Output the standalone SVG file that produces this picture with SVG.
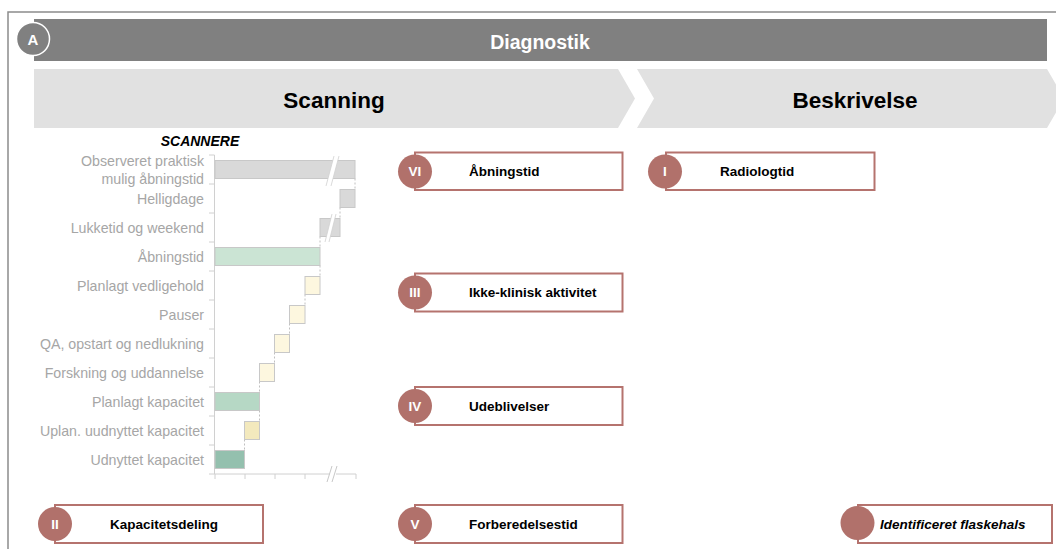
<svg xmlns="http://www.w3.org/2000/svg" width="1056" height="549" viewBox="0 0 1056 549">
  <style>
    .hdr { font-family: "Liberation Sans", Arial, sans-serif; font-weight: bold; }
    .cat { font-family: "Liberation Sans", Arial, sans-serif; font-size: 14.2px; fill: #a6a6a6; text-anchor: end; }
    .lbl { font-family: "Liberation Sans", Arial, sans-serif; font-size: 13.5px; font-weight: bold; fill: #000; }
    .num { font-family: "Liberation Sans", Arial, sans-serif; font-size: 13.5px; font-weight: bold; fill: #fff; text-anchor: middle; }
    .box { fill: #fff; stroke: #b5736e; stroke-width: 2; }
    .dot { fill: #b1716b; }
    .bar { stroke: #c8c8c8; stroke-width: 1; }
    .ax { stroke: #d0d0d0; stroke-width: 1; fill: none; }
    .dash { stroke: #b0b0b0; stroke-width: 0.8; stroke-dasharray: 2 2; fill: none; }
  </style>

  <rect x="0" y="0" width="1056" height="549" fill="#fff"/>
  <!-- frame -->
  <rect x="8" y="12" width="1070" height="560" fill="none" stroke="#8c8c8c" stroke-width="1.5"/>

  <!-- title bar -->
  <g id="title">
    <rect x="34" y="19" width="1013" height="42" fill="#808080"/>
    <text x="540" y="49" class="hdr" font-size="19.5" fill="#fff" text-anchor="middle">Diagnostik</text>
    <circle cx="33" cy="39" r="16.5" fill="#808080" stroke="#fff" stroke-width="1.5"/>
    <text x="33" y="44.5" class="hdr" font-size="15" fill="#fff" text-anchor="middle">A</text>
  </g>

  <!-- phase chevrons -->
  <g id="phase-scanning">
    <polygon points="34,69 618,69 635,98.5 618,128 34,128" fill="#e1e1e1"/>
    <text x="334" y="108" class="hdr" font-size="22.5" fill="#000" text-anchor="middle">Scanning</text>
  </g>
  <g id="phase-beskrivelse">
    <polygon points="637,69 1047,69 1064,98.5 1047,128 637,128 654,98.5" fill="#e1e1e1"/>
    <text x="855" y="108" class="hdr" font-size="22.5" fill="#000" text-anchor="middle">Beskrivelse</text>
  </g>

  <!-- waterfall chart -->
  <g id="chart">
    <text x="200" y="146" class="hdr" font-size="14" font-style="italic" fill="#000" text-anchor="middle">SCANNERE</text>

    <!-- axes -->
    <line x1="214.5" y1="155" x2="214.5" y2="474" class="ax"/>
    <path class="ax" d="M209,155H214.5M209,184H214.5M209,213H214.5M209,242H214.5M209,271H214.5M209,300H214.5M209,329H214.5M209,358H214.5M209,387H214.5M209,416H214.5M209,445H214.5M209,474H214.5"/>
    <path class="ax" d="M214.5,474H330M336,474H356M215,474V479M245,474V479M275,474V479M305,474V479M356,474V479"/>
    <path d="M327,482L332,466M332,482L337,466" stroke="#c8c8c8" stroke-width="1" fill="none"/>

    <!-- connectors between bar ends -->
    <path class="dash" d="M355,178.5V189.5M340,207.5V218.5M320,236.5V247.5M320,265.5V276.5M305,294.5V305.5M289.5,323.5V334.5M274.5,352.5V363.5M259.5,381.5V392.5M259.5,410.5V421.5M244.5,439.5V450.5"/>

    <!-- bars -->
    <rect x="215" y="160.5" width="140" height="18" fill="#d9d9d9" class="bar"/>
    <rect x="340" y="189.5" width="15" height="18" fill="#d9d9d9" class="bar"/>
    <rect x="320" y="218.5" width="20" height="18" fill="#d9d9d9" class="bar"/>
    <rect x="215" y="247.5" width="105" height="18" fill="#cbe4d4" class="bar"/>
    <rect x="305" y="276.5" width="15" height="18" fill="#fdf7df" class="bar"/>
    <rect x="289.5" y="305.5" width="15.5" height="18" fill="#fdf7df" class="bar"/>
    <rect x="274.5" y="334.5" width="15" height="18" fill="#fdf7df" class="bar"/>
    <rect x="259.5" y="363.5" width="15" height="18" fill="#fdf7df" class="bar"/>
    <rect x="215" y="392.5" width="44.5" height="18" fill="#b6d8c5" class="bar"/>
    <rect x="244.5" y="421.5" width="15" height="18" fill="#f3e9bd" class="bar"/>
    <rect x="215" y="450.5" width="29.5" height="18" fill="#94c0ae" class="bar"/>

    <!-- scale breaks -->
    <polygon points="326,186 331,186 339,156 334,156" fill="#fff"/>
    <path d="M326,186L334,156M331,186L339,156" stroke="#d0d0d0" stroke-width="0.8" fill="none"/>
    <polygon points="325,242 329,242 336,214 332,214" fill="#fff"/>
    <path d="M325,242L332,214M329,242L336,214" stroke="#d0d0d0" stroke-width="0.8" fill="none"/>

    <!-- category labels -->
    <text x="204" y="166" class="cat">Observeret praktisk</text>
    <text x="204" y="183.5" class="cat">mulig åbningstid</text>
    <text x="204" y="204" class="cat">Helligdage</text>
    <text x="204" y="233" class="cat">Lukketid og weekend</text>
    <text x="204" y="262" class="cat">Åbningstid</text>
    <text x="204" y="291" class="cat">Planlagt vedligehold</text>
    <text x="204" y="320" class="cat">Pauser</text>
    <text x="204" y="349" class="cat">QA, opstart og nedlukning</text>
    <text x="204" y="378" class="cat">Forskning og uddannelse</text>
    <text x="204" y="407" class="cat">Planlagt kapacitet</text>
    <text x="204" y="436" class="cat">Uplan. uudnyttet kapacitet</text>
    <text x="204" y="465" class="cat">Udnyttet kapacitet</text>
  </g>

  <!-- factor boxes -->
  <g id="factor-vi">
    <rect x="415" y="152.5" width="207.5" height="37.5" class="box"/>
    <circle cx="415" cy="171.5" r="17" class="dot"/>
    <text x="415" y="176" class="num">VI</text>
    <text x="469" y="176" class="lbl">Åbningstid</text>
  </g>
  <g id="factor-iii">
    <rect x="415" y="273.5" width="207.5" height="38" class="box"/>
    <circle cx="415" cy="292.5" r="17" class="dot"/>
    <text x="415" y="297" class="num">III</text>
    <text x="469" y="297" class="lbl">Ikke-klinisk aktivitet</text>
  </g>
  <g id="factor-iv">
    <rect x="415" y="387" width="207.5" height="38" class="box"/>
    <circle cx="415" cy="406" r="17" class="dot"/>
    <text x="415" y="410.5" class="num">IV</text>
    <text x="469" y="410.5" class="lbl">Udeblivelser</text>
  </g>
  <g id="factor-v">
    <rect x="415" y="505" width="207.5" height="38" class="box"/>
    <circle cx="415" cy="524" r="17" class="dot"/>
    <text x="415" y="528.5" class="num">V</text>
    <text x="469" y="528.5" class="lbl">Forberedelsestid</text>
  </g>
  <g id="factor-i">
    <rect x="666" y="152.5" width="208.5" height="37.5" class="box"/>
    <circle cx="665" cy="171.5" r="17" class="dot"/>
    <text x="665" y="176" class="num">I</text>
    <text x="720" y="176" class="lbl">Radiologtid</text>
  </g>
  <g id="factor-ii">
    <rect x="55" y="505" width="208" height="38" class="box"/>
    <circle cx="55" cy="524" r="17" class="dot"/>
    <text x="55" y="528.5" class="num">II</text>
    <text x="110" y="528.5" class="lbl">Kapacitetsdeling</text>
  </g>
  <g id="legend-bottleneck">
    <rect x="858" y="505" width="194" height="38" class="box"/>
    <circle cx="857.5" cy="523" r="17" class="dot"/>
    <text x="880" y="528.5" class="lbl" font-size="14" font-style="italic">Identificeret flaskehals</text>
  </g>
</svg>
